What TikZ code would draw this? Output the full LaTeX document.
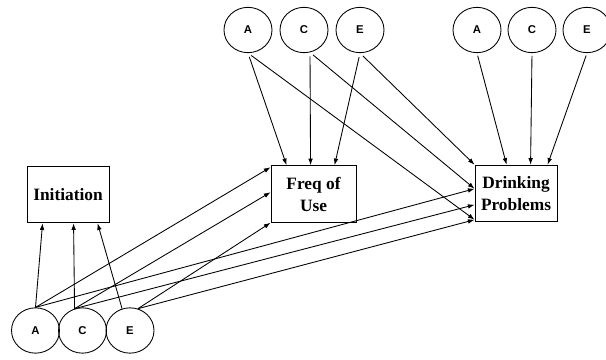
\documentclass[tikz,border=0pt]{standalone}
\usepackage{fontspec}
\setmainfont{Liberation Serif}
\newfontfamily\latentfont{Liberation Sans}
\usetikzlibrary{shapes.geometric,arrows.meta,calc}

\begin{document}
\begin{tikzpicture}[x=0.75pt, y=-0.75pt, line width=0.65pt,
    latent/.style={draw, ellipse, minimum width=36pt, minimum height=34pt, inner sep=0pt,
        font=\latentfont\fontsize{8.5}{9}\selectfont\bfseries},
    measure/.style={draw, rectangle, minimum width=61.5pt, minimum height=42.5pt, inner sep=1pt,
        align=center, font=\fontsize{13}{16.5}\selectfont\bfseries},
    effect/.style={-{Latex[length=5pt,width=3.5pt]}},
    ]
    \useasboundingbox (0,0) rectangle (606,360);

    % Measured phenotypes
    \node[measure] (init) at (68,194.5) {Initiation};
    \node[measure, minimum width=63.75pt] (freq) at (313.5,194) {Freq of\\Use};
    \node[measure] (drink) at (516,193.5) {Drinking\\Problems};

    % Bottom: A, C, E of initiation
    \node[latent] (bA) at (35.5,330.5) {A};
    \node[latent] (bC) at (82.5,330.5) {C};
    \node[latent] (bE) at (130,330.5) {E};

    % Top: A, C, E of frequency
    \node[latent] (fA) at (248,30) {A};
    \node[latent] (fC) at (304,30) {C};
    \node[latent] (fE) at (360,30) {E};

    % Top right: A, C, E of drinking problems
    \node[latent] (dA) at (477,30) {A};
    \node[latent] (dC) at (532,30) {C};
    \node[latent] (dE) at (587,30) {E};

    % Paths into Initiation
    \draw[effect] (bA.north) -- ($(init.south west)+(16,0)$);
    \draw[effect] (bC.110) -- ($(init.south west)+(47,0)$);
    \draw[effect] (bE.110) -- ($(init.south west)+(71,0)$);

    % Paths from the bottom into Freq of Use and Drinking Problems
    \draw[effect] (bA.north) -- ($(freq.north west)+(0,2)$);
    \draw[effect] (bC.110) -- ($(freq.north west)+(0,27)$);
    \draw[effect] (bE.70) -- (freq.south west);
    \draw[effect] (bA.north) -- ($(drink.north west)+(0,24)$);
    \draw[effect] (bC.110) -- ($(drink.north west)+(0,40)$);
    \draw[effect] (bE.70) -- ($(drink.north west)+(0,55)$);

    % Paths from the frequency factors
    \draw[effect, shorten <=3pt] (fA.south) -- ($(freq.north west)+(16,0)$);
    \draw[effect, shorten <=3pt] (fC.-75) -- ($(freq.north west)+(40,0)$);
    \draw[effect, shorten <=3pt] (fE.south) -- ($(freq.north west)+(64,0)$);
    \draw[effect, shorten <=3pt] (fA.south) -- ($(drink.north west)+(0,55)$);
    \draw[effect, shorten <=3pt] (fC.-75) -- ($(drink.north west)+(0,24)$);
    \draw[effect, shorten <=3pt] (fE.south) -- (drink.north west);

    % Paths from the drinking problems factors
    \draw[effect, shorten <=2pt] (dA.south) -- ($(drink.north west)+(32,0)$);
    \draw[effect, shorten <=2pt] (dC.south) -- ($(drink.north west)+(56,0)$);
    \draw[effect, shorten <=2pt] (dE.south) -- ($(drink.north west)+(73,0)$);
\end{tikzpicture}
\end{document}
